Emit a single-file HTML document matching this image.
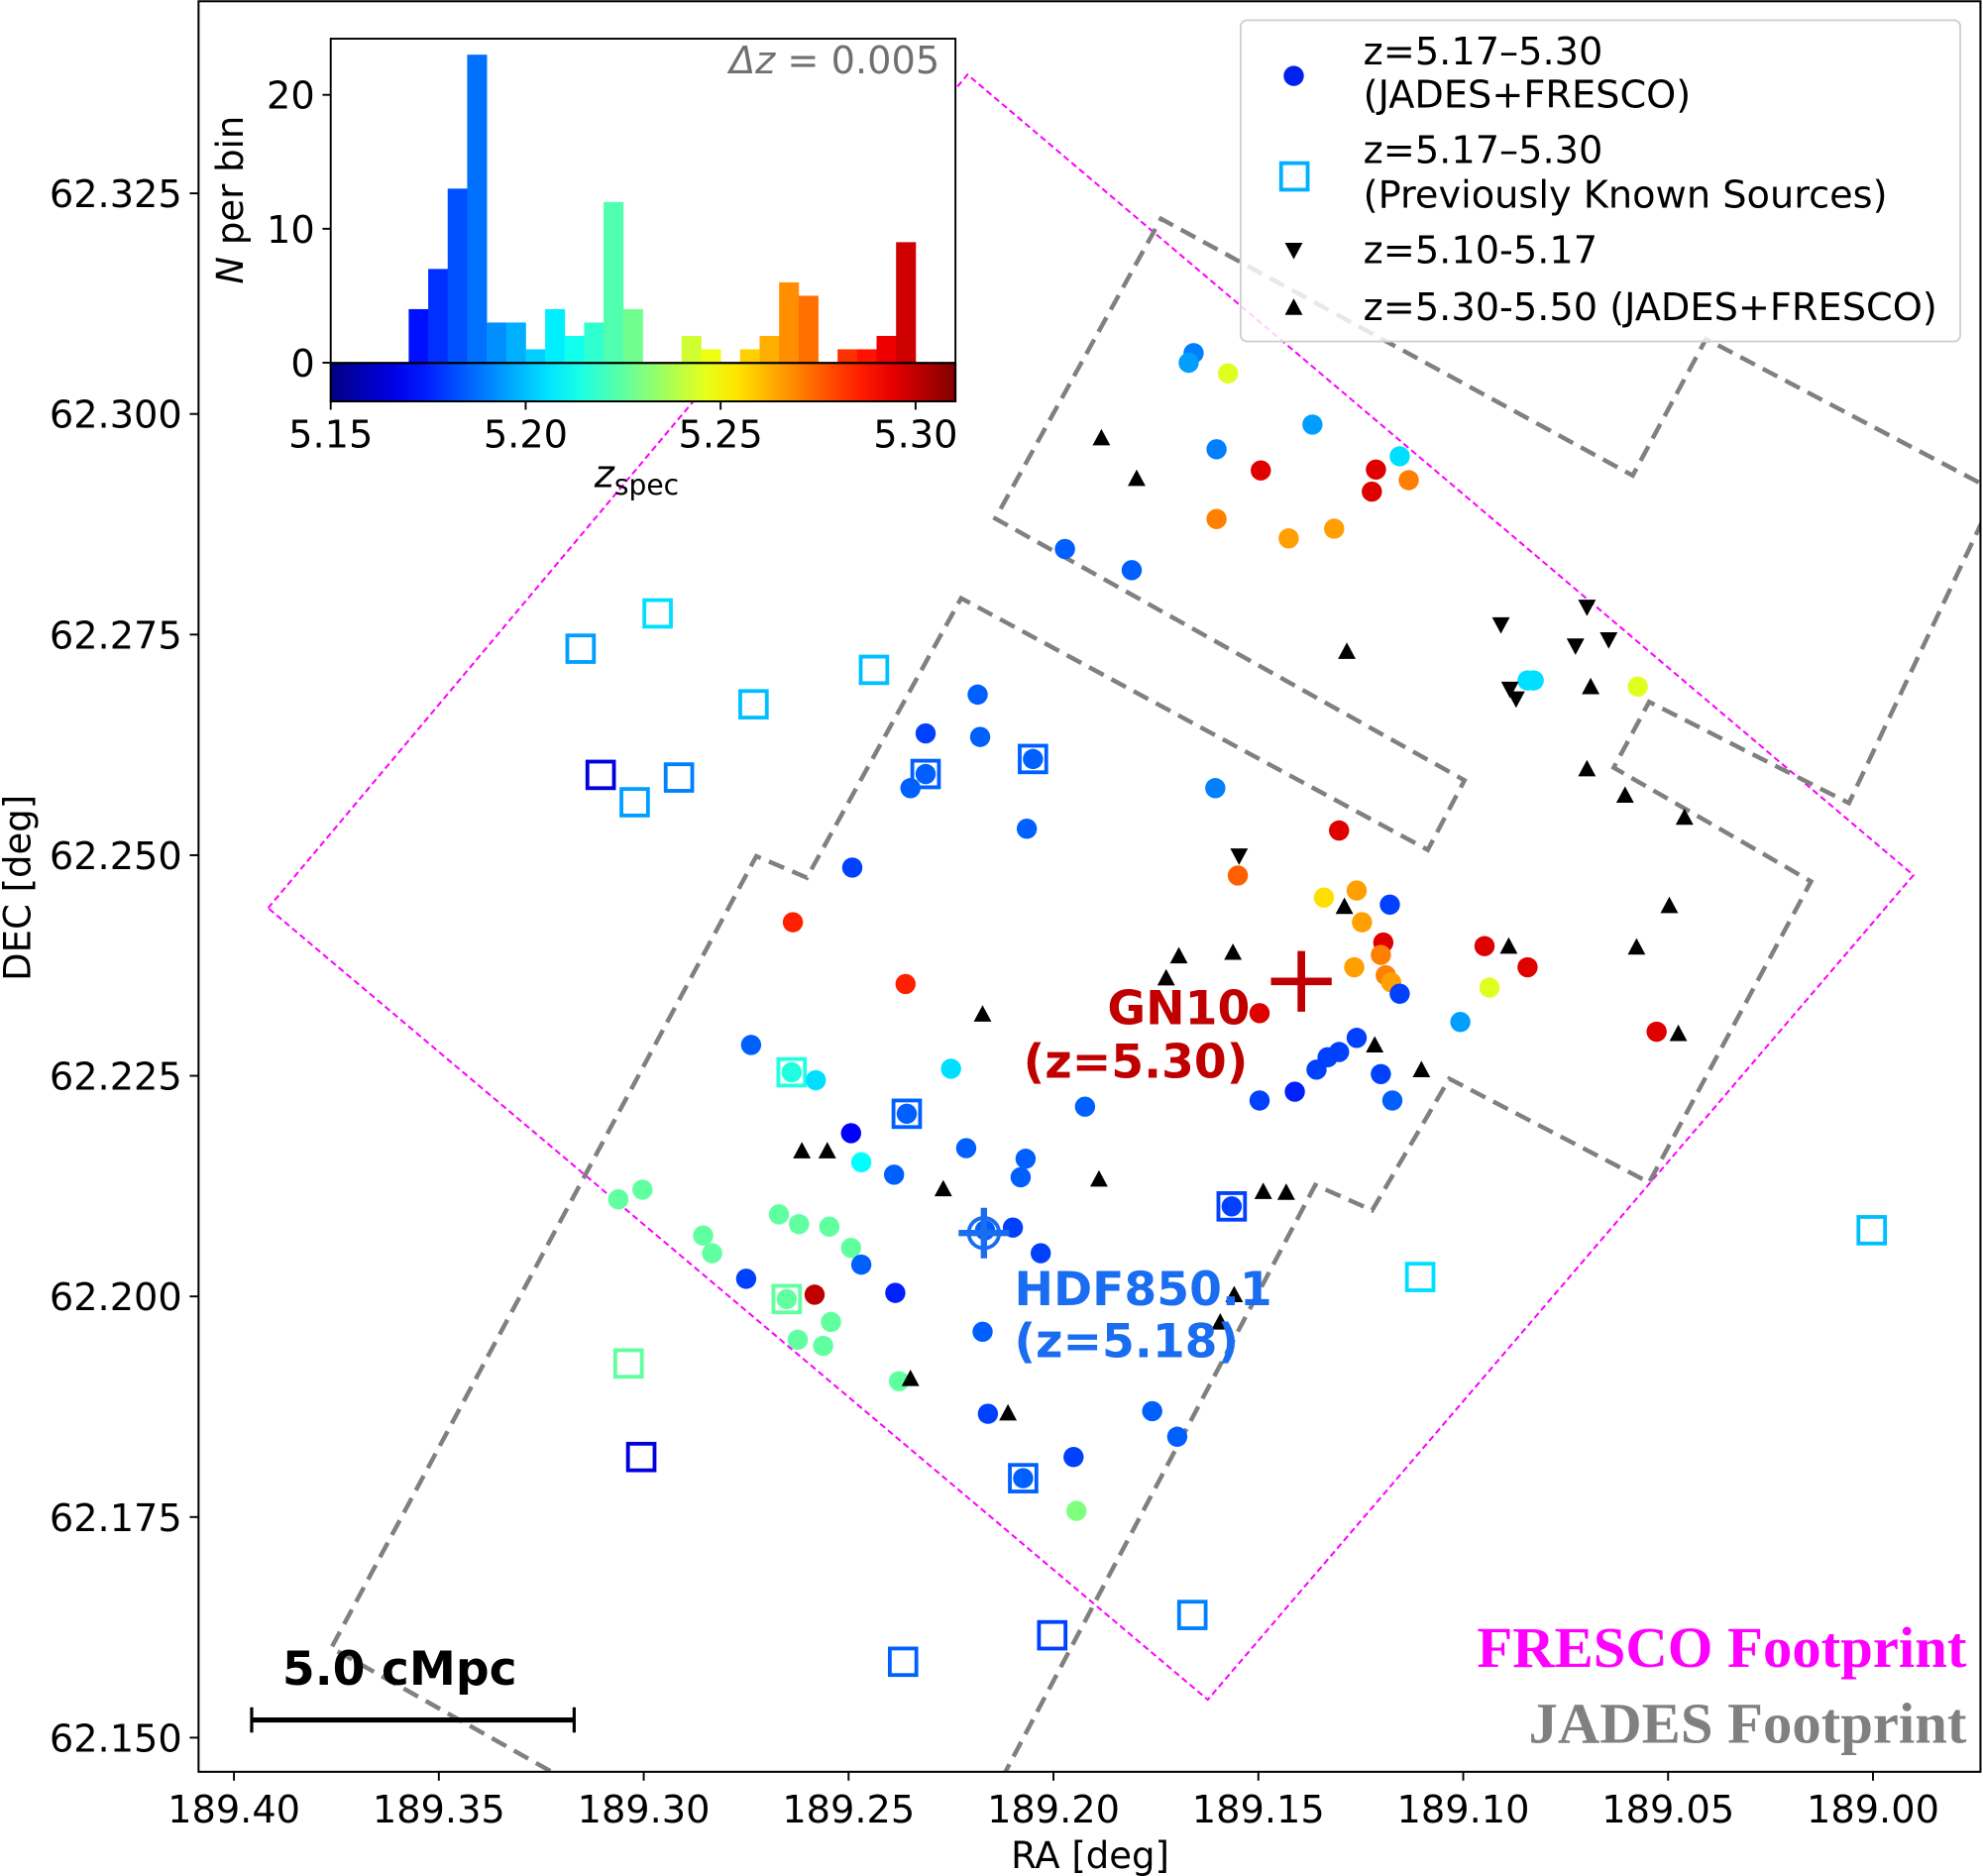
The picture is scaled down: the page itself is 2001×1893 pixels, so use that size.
<!DOCTYPE html>
<html><head><meta charset="utf-8"><style>
html,body{margin:0;padding:0;background:#fff;}
svg{display:block;font-family:"DejaVu Sans","Liberation Sans",sans-serif;}
</style></head><body>
<svg id="chart" width="2001" height="1893" viewBox="0 0 1568 1483.4" preserveAspectRatio="none" xmlns="http://www.w3.org/2000/svg">
<defs>
<clipPath id="plotclip"><rect x="157" y="1" width="1409" height="1400"/></clipPath>
<linearGradient id="jetgrad" x1="0" x2="1" y1="0" y2="0"></linearGradient>
</defs>
<rect x="0" y="0" width="1568" height="1483.4" fill="#fff"/>
<g id="footprints" clip-path="url(#plotclip)">
<polygon points="212,718 765,59 1513,692 955,1344" fill="none" stroke="#ff00ff" stroke-width="1.6" stroke-dasharray="5,3"/>
<polyline points="470,1420 262,1303 598,677 638,694 760,473 1129,672 1158,617 787,410 918,173 1291,376 1349,268 1600,400" fill="none" stroke="#808080" stroke-width="3.5" stroke-dasharray="13,7"/>
<polyline points="1585,375 1462,635 1304,555 1276,607 1432,697 1304,935 1146,853 1085,957 1040,937 785,1420" fill="none" stroke="#808080" stroke-width="3.5" stroke-dasharray="13,7"/>
</g>
<g id="marks" clip-path="url(#plotclip)"></g>
<rect x="157" y="1" width="1409" height="1400" fill="none" stroke="#000" stroke-width="1.6"/>
<g id="axes"></g>
<text x="862" y="1477" font-size="29" text-anchor="middle">RA [deg]</text>
<text x="0" y="0" font-size="29" text-anchor="middle" transform="translate(24,702) rotate(-90)">DEC [deg]</text>
<g><line x1="1005" y1="776" x2="1053" y2="776" stroke="#c00000" stroke-width="6"/><line x1="1029" y1="752" x2="1029" y2="800" stroke="#c00000" stroke-width="6"/></g>
<text x="932" y="810" font-size="37" font-weight="bold" fill="#c00000" text-anchor="middle">GN10</text>
<text x="898" y="852" font-size="37" font-weight="bold" fill="#c00000" text-anchor="middle">(z=5.30)</text>
<g><circle cx="778" cy="975" r="12" fill="none" stroke="#1a6cf0" stroke-width="3"/><line x1="758" y1="975" x2="798" y2="975" stroke="#1a6cf0" stroke-width="5"/><line x1="778" y1="955" x2="778" y2="995" stroke="#1a6cf0" stroke-width="5"/></g>
<text x="802" y="1032" font-size="37" font-weight="bold" fill="#1a6cf0">HDF850.1</text>
<text x="802" y="1073" font-size="37" font-weight="bold" fill="#1a6cf0">(z=5.18)</text>
<g><line x1="199" y1="1360" x2="454" y2="1360" stroke="#000" stroke-width="4"/><line x1="199" y1="1350" x2="199" y2="1370" stroke="#000" stroke-width="2.5"/><line x1="454" y1="1350" x2="454" y2="1370" stroke="#000" stroke-width="2.5"/></g>
<text x="316" y="1332" font-size="37" font-weight="bold" text-anchor="middle">5.0 cMpc</text>
<text x="1555" y="1318" font-size="46" font-weight="bold" fill="#ff00ff" text-anchor="end" font-family="Liberation Serif, serif">FRESCO Footprint</text>
<text x="1555" y="1378" font-size="46" font-weight="bold" fill="#808080" text-anchor="end" font-family="Liberation Serif, serif">JADES Footprint</text>
<g>
<rect x="981" y="16" width="569" height="254" rx="5" fill="#fff" fill-opacity="0.82" stroke="#d0d0d0" stroke-width="1.5"/>
<circle cx="1023" cy="60" r="8" fill="#0022ee"/>
<text x="1078" y="51" font-size="30">z=5.17–5.30</text>
<text x="1078" y="85" font-size="30">(JADES+FRESCO)</text>
<rect x="1013" y="129" width="21" height="21" fill="none" stroke="#00b0ff" stroke-width="3"/>
<text x="1078" y="129" font-size="30">z=5.17–5.30</text>
<text x="1078" y="164" font-size="30">(Previously Known Sources)</text>
<polygon points="1016,192 1030,192 1023,205" fill="#000"/>
<text x="1078" y="208" font-size="30">z=5.10-5.17</text>
<polygon points="1016,249 1030,249 1023,236" fill="#000"/>
<text x="1078" y="253" font-size="30">z=5.30-5.50 (JADES+FRESCO)</text>
</g>
<g>
<rect x="261.5" y="30.6" width="494" height="287" fill="#fff"/>
<g id="hist"></g>
<rect x="261.5" y="287" width="494" height="30.4" fill="url(#jetgrad)" stroke="#000" stroke-width="1.5"/>
<line x1="261.5" y1="287" x2="755.5" y2="287" stroke="#000" stroke-width="1.6"/>
<rect x="261.5" y="30.6" width="494" height="286.8" fill="none" stroke="#000" stroke-width="1.5"/>
<text x="743" y="58" font-size="30" fill="#707070" text-anchor="end"><tspan font-style="italic">Δz</tspan> = 0.005</text>
<g id="insetaxes"></g>
<text font-size="29" text-anchor="middle" transform="translate(192,158) rotate(-90)"><tspan font-style="italic">N</tspan> per bin</text>
<text x="470" y="385" font-size="30" font-style="italic">z<tspan font-size="22" dy="6" font-style="normal">spec</tspan></text>
</g>
</svg>
<script>
// ---- data ----
const circRA=[189.1658,189.1670,189.1574,189.1368,189.1602,189.1494,189.1213,189.1155,189.1133,189.1223,189.1602,189.1426,189.1315,189.1972,189.1809,189.0843,189.0828,189.0574,189.2185,189.2312,189.2179,189.2312,189.2349,189.2050,189.1605,189.2065,189.2491,189.1303,189.1550,189.2636,189.1340,189.1260,189.1247,189.1179,189.1195,189.1201,189.1266,189.1189,189.1176,189.1155,189.0948,189.0843,189.0936,189.1007,189.0528,189.2361,189.1497,189.2738,189.2639,189.2580,189.2250,189.1260,189.1303,189.1331,189.1358,189.1411,189.1497,189.1201,189.1173,189.1923,189.2494,189.2358,189.2213,189.2068,189.2469,189.2389,189.2080,189.3062,189.3003,189.2670,189.2621,189.2547,189.2855,189.2833,189.2494,189.2469,189.2167,189.2099,189.2031,189.1565,189.2750,189.2386,189.2583,189.2651,189.2543,189.2624,189.2562,189.2173,189.2377,189.2160,189.1759,189.1698,189.1951,189.2074,189.1944];
const circDEC=[62.3069,62.3058,62.3046,62.2988,62.2960,62.2936,62.2937,62.2952,62.2925,62.2912,62.2881,62.2859,62.2870,62.2847,62.2823,62.2698,62.2698,62.2691,62.2682,62.2638,62.2634,62.2592,62.2576,62.2609,62.2576,62.2530,62.2486,62.2528,62.2477,62.2424,62.2452,62.2460,62.2424,62.2444,62.2401,62.2387,62.2373,62.2364,62.2356,62.2343,62.2397,62.2373,62.2350,62.2311,62.2300,62.2354,62.2321,62.2285,62.2254,62.2245,62.2258,62.2293,62.2277,62.2271,62.2257,62.2232,62.2222,62.2252,62.2222,62.2215,62.2185,62.2207,62.2168,62.2156,62.2152,62.2138,62.2135,62.2110,62.2121,62.2093,62.2082,62.2079,62.2069,62.2049,62.2055,62.2036,62.2075,62.2078,62.2049,62.2102,62.2020,62.2004,62.2002,62.1997,62.1971,62.1951,62.1944,62.1960,62.1904,62.1867,62.1870,62.1841,62.1818,62.1794,62.1757];
const circZ=[5.19,5.195,5.245,5.195,5.19,5.295,5.295,5.205,5.27,5.295,5.27,5.265,5.265,5.185,5.185,5.205,5.205,5.245,5.185,5.18,5.185,5.185,5.185,5.185,5.19,5.185,5.18,5.295,5.275,5.285,5.255,5.265,5.265,5.18,5.295,5.27,5.265,5.27,5.265,5.18,5.295,5.295,5.245,5.195,5.295,5.285,5.295,5.185,5.215,5.205,5.205,5.18,5.18,5.18,5.18,5.175,5.18,5.18,5.185,5.185,5.17,5.185,5.185,5.185,5.21,5.185,5.185,5.225,5.225,5.225,5.225,5.225,5.225,5.225,5.225,5.185,5.185,5.18,5.18,5.18,5.18,5.175,5.30,5.225,5.225,5.225,5.225,5.185,5.225,5.18,5.185,5.185,5.18,5.185,5.23];
const sqRA=[189.3154,189.2966,189.2732,189.2438,189.3105,189.3022,189.2914,189.2312,189.2050,189.2639,189.2358,189.1565,189.0003,189.1105,189.2651,189.3037,189.3006,189.2074,189.1661,189.2003,189.2367];
const sqDEC=[62.2734,62.2774,62.2671,62.2710,62.2591,62.2560,62.2588,62.2592,62.2609,62.2254,62.2207,62.2102,62.2075,62.2022,62.1997,62.1924,62.1818,62.1794,62.1639,62.1616,62.1586];
const sqZ=[5.195,5.205,5.20,5.20,5.165,5.195,5.19,5.185,5.185,5.215,5.185,5.18,5.20,5.205,5.225,5.225,5.165,5.185,5.19,5.18,5.185];
const downRA=[189.0698,189.0908,189.0726,189.0645,189.0886,189.0871,189.1547];
const downDEC=[62.2781,62.2761,62.2737,62.2744,62.2688,62.2677,62.2499];
const upRA=[189.1883,189.1797,189.1284,189.0689,189.0698,189.0605,189.0460,189.0497,189.1290,189.0577,189.0889,189.1694,189.1562,189.1725,189.2173,189.1216,189.1102,189.0475,189.2614,189.2552,189.2269,189.1889,189.1488,189.1432,189.1559,189.1593,189.2349,189.2111];
const upDEC=[62.2973,62.2927,62.2731,62.2691,62.2598,62.2568,62.2543,62.2443,62.2442,62.2396,62.2397,62.2386,62.2390,62.2361,62.2320,62.2285,62.2257,62.2298,62.2165,62.2165,62.2122,62.2133,62.2119,62.2118,62.2002,62.1971,62.1907,62.1868];
const xTicks=[189.40,189.35,189.30,189.25,189.20,189.15,189.10,189.05,189.00];
const xTickLabels=["189.40","189.35","189.30","189.25","189.20","189.15","189.10","189.05","189.00"];
const yTicks=[62.150,62.175,62.200,62.225,62.250,62.275,62.300,62.325];
const yTickLabels=["62.150","62.175","62.200","62.225","62.250","62.275","62.300","62.325"];
const binLeft=[5.170,5.175,5.180,5.185,5.190,5.195,5.200,5.205,5.210,5.215,5.220,5.225,5.230,5.235,5.240,5.245,5.250,5.255,5.260,5.265,5.270,5.275,5.280,5.285,5.290,5.295];
const binCount=[4,7,13,23,3,3,1,4,2,3,12,4,0,0,2,1,0,1,2,6,5,0,1,1,2,9];
const histXTicks=[5.15,5.20,5.25,5.30];
const histXTickLabels=["5.15","5.20","5.25","5.30"];
const histYTicks=[0,10,20];
const histYTickLabels=["0","10","20"];

// ---- scales ----
const NS="http://www.w3.org/2000/svg";
function xS(ra){return 185+(189.40-ra)*3240;}
function yS(dec){return 1374-(dec-62.150)*6977.8;}
function hx(z){return 261.5+(z-5.15)*3083;}
function hy(n){return 286.8-n*10.59;}
function jet(t){t=Math.max(0,Math.min(1,t));
 const c=v=>Math.round(255*Math.max(0,Math.min(1,v)));
 return "rgb("+c(1.5-Math.abs(4*t-3))+","+c(1.5-Math.abs(4*t-2))+","+c(1.5-Math.abs(4*t-1))+")";}
function zc(z){return jet((z-5.15)/0.16);}
function mk(tag,attrs,parent){const e=document.createElementNS(NS,tag);for(const k in attrs)e.setAttribute(k,attrs[k]);parent.appendChild(e);return e;}

const grad=document.getElementById('jetgrad');
for(let i=0;i<=20;i++){mk('stop',{offset:(i/20),'stop-color':jet(i/20)},grad);}

const marks=document.getElementById('marks');
for(let i=0;i<sqRA.length;i++){
 const e=mk('rect',{x:xS(sqRA[i])-10.5,y:yS(sqDEC[i])-10.5,width:21,height:21,fill:'none',stroke:zc(sqZ[i]),'stroke-width':3},marks);
 
 
}
for(let i=0;i<circRA.length;i++){
 const e=mk('circle',{cx:xS(circRA[i]),cy:yS(circDEC[i]),r:8,fill:zc(circZ[i])},marks);
 
 
}
for(let i=0;i<downRA.length;i++){
 const x=xS(downRA[i]),y=yS(downDEC[i]);
 const e=mk('polygon',{points:(x-7)+","+(y-6)+" "+(x+7)+","+(y-6)+" "+x+","+(y+7),fill:'#000'},marks);
 
 
}
for(let i=0;i<upRA.length;i++){
 const x=xS(upRA[i]),y=yS(upDEC[i]);
 const e=mk('polygon',{points:(x-7)+","+(y+6)+" "+(x+7)+","+(y+6)+" "+x+","+(y-7),fill:'#000'},marks);
 
 
}

const axes=document.getElementById('axes');
for(let i=0;i<xTicks.length;i++){
 const x=xS(xTicks[i]);
 const t=mk('line',{x1:x,y1:1401,x2:x,y2:1408,stroke:'#000','stroke-width':1.5},axes);
 
 
 const l=mk('text',{x:x,y:1441,'font-size':30,'text-anchor':'middle'},axes);
 l.textContent=xTickLabels[i];
 
 
}
for(let i=0;i<yTicks.length;i++){
 const y=yS(yTicks[i]);
 const t=mk('line',{x1:150,y1:y,x2:157,y2:y,stroke:'#000','stroke-width':1.5},axes);
 
 
 const l=mk('text',{x:144,y:y+11,'font-size':30,'text-anchor':'end'},axes);
 l.textContent=yTickLabels[i];
 
 
}

const hist=document.getElementById('hist');
for(let i=0;i<binLeft.length;i++){
 if(binCount[i]<=0)continue;
 const x0=hx(binLeft[i]),x1=hx(binLeft[i]+0.005);
 const e=mk('rect',{x:x0,y:hy(binCount[i]),width:x1-x0+0.3,height:hy(0)-hy(binCount[i]),fill:zc(binLeft[i]+0.0025)},hist);
 
 
}
const ia=document.getElementById('insetaxes');
for(let i=0;i<histXTicks.length;i++){
 const x=hx(histXTicks[i]);
 const t=mk('line',{x1:x,y1:317.4,x2:x,y2:324,stroke:'#000','stroke-width':1.5},ia);
 
 
 const l=mk('text',{x:x,y:354,'font-size':30,'text-anchor':'middle'},ia);
 l.textContent=histXTickLabels[i];
 
 
}
for(let i=0;i<histYTicks.length;i++){
 const y=hy(histYTicks[i]);
 const t=mk('line',{x1:255,y1:y,x2:261.5,y2:y,stroke:'#000','stroke-width':1.5},ia);
 
 
 const l=mk('text',{x:249,y:y+11,'font-size':30,'text-anchor':'end'},ia);
 l.textContent=histYTickLabels[i];
 
 
}
</script>
</body></html>
